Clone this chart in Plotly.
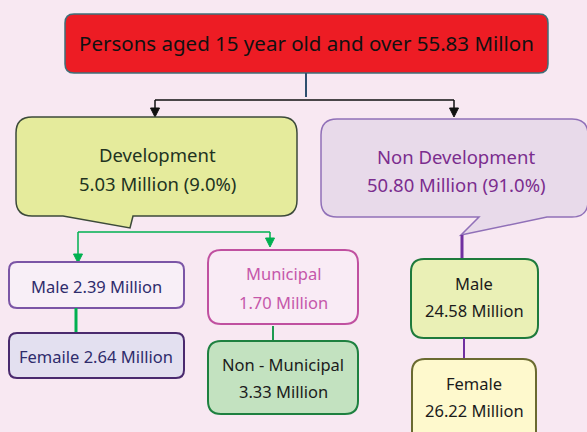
import plotly.graph_objects as go

# ---- data ----
total_label = "Persons aged 15 year old and over"
total_value = 55.83
group_names = ["Development", "Non Development"]
group_values = [5.03, 50.80]
group_shares = [9.0, 91.0]
dev_sex_names = ["Male", "Femaile"]
dev_sex_values = [2.39, 2.64]
dev_area_names = ["Municipal", "Non - Municipal"]
dev_area_values = [1.70, 3.33]
nondev_sex_names = ["Male", "Female"]
nondev_sex_values = [24.58, 26.22]

W, H = 587, 432
FONT = "Noto Sans"
BG = "#F8E8F2"

fig = go.Figure()
shapes = []
annots = []


def rr_path(x0, y0, x1, y1, r, tail=None):
    p = f"M {x0+r},{y0} L {x1-r},{y0} Q {x1},{y0} {x1},{y0+r} L {x1},{y1-r} Q {x1},{y1} {x1-r},{y1} "
    if tail:
        xa, xt, yt, xb = tail
        p += f"L {xa},{y1} L {xt},{yt} L {xb},{y1} "
    p += f"L {x0+r},{y1} Q {x0},{y1} {x0},{y1-r} L {x0},{y0+r} Q {x0},{y0} {x0+r},{y0} Z"
    return p


def box(x0, y0, x1, y1, fill, line, r=10, width=2, tail=None):
    shapes.append(dict(type="path", path=rr_path(x0, y0, x1, y1, r, tail),
                       fillcolor=fill, line=dict(color=line, width=width),
                       xref="x", yref="y", layer="above"))


def text(x, y, s, color, size=17):
    annots.append(dict(x=x, y=y, text=s, showarrow=False, xref="x", yref="y",
                       font=dict(family=FONT, size=size, color=color),
                       xanchor="center", yanchor="middle"))


def line(x0, y0, x1, y1, color, width=1.5):
    shapes.append(dict(type="line", x0=x0, y0=y0, x1=x1, y1=y1, xref="x", yref="y",
                       line=dict(color=color, width=width), layer="above"))


def arrow_head(x, y, color, s=4.5):
    shapes.append(dict(type="path", path=f"M {x-s},{y-9} L {x+s},{y-9} L {x},{y} Z",
                       fillcolor=color, line=dict(color=color, width=1),
                       xref="x", yref="y", layer="above"))


# top box
box(65, 14, 548, 73, "#ED1C24", "#3E6F78", r=9, width=1.5)
text(306, 43, f"{total_label} {total_value:.2f} Millon", "#111111", 20.5)

# connectors top
line(306, 73, 306, 97, "#2F4F6F", 2)
line(155, 100, 454, 100, "#111111", 1.5)
line(155, 100, 155, 112, "#111111", 1.5)
line(454, 100, 454, 112, "#111111", 1.5)
arrow_head(155, 117, "#111111")
arrow_head(454, 117, "#111111")

# Development callout
box(16, 117, 297, 216, "#E5EB9C", "#3C4A3A", r=16, width=1.5, tail=(133, 130, 228, 63))
text(157, 154, group_names[0], "#22331F", 18.5)
text(157, 183, f"{group_values[0]:.2f} Million ({group_shares[0]:.1f}%)", "#22331F", 18.5)

# Non Development callout
box(321, 119, 588, 217, "#E8DAEA", "#9070B8", r=16, width=1.5, tail=(547, 461, 235, 479))
text(456, 156, group_names[1], "#7B2D8E", 18.5)
text(456, 184, f"{group_values[1]:.2f} Million ({group_shares[1]:.1f}%)", "#7B2D8E", 18.5)

# green connectors under Development
GREEN = "#00B050"
line(78, 232, 270, 232, GREEN, 1.5)
line(78, 232, 78, 257, GREEN, 1.5)
line(270, 232, 270, 241, GREEN, 1.5)
arrow_head(78, 263, GREEN)
arrow_head(270, 247, GREEN)

# Dev male / female
box(9, 262, 184, 308, "#F8EFF7", "#7B55A6", r=8, width=2)
text(96, 286, f"{dev_sex_names[0]} {dev_sex_values[0]:.2f} Million", "#2F2C6C", 16.5)
line(76, 308, 76, 333, GREEN, 3)
box(9, 333, 184, 378, "#E3E0F0", "#4A2A6E", r=8, width=2)
text(96, 356, f"{dev_sex_names[1]} {dev_sex_values[1]:.2f} Million", "#2F2C6C", 16.5)

# Municipal / Non-Municipal
box(208, 250, 358, 324, "#F9EBF5", "#C050A0", r=13, width=2)
text(283, 273, dev_area_names[0], "#C557AA", 16.5)
text(283, 302, f"{dev_area_values[0]:.2f} Million", "#C557AA", 16.5)
line(273, 326, 273, 341, "#1E9A50", 2)
box(208, 341, 358, 414, "#C3E2C0", "#1E8040", r=13, width=2)
text(283, 364, dev_area_names[1], "#1B1B1B", 16.5)
text(283, 391, f"{dev_area_values[1]:.2f} Million", "#1B1B1B", 16.5)

# Non Development male / female
PURPLE = "#7030A0"
line(462, 235, 462, 258, PURPLE, 3)
box(411, 259, 538, 338, "#EAF0B6", "#1E7A3C", r=13, width=2)
text(474, 283, nondev_sex_names[0], "#1B1B1B", 16.5)
text(474, 310, f"{nondev_sex_values[0]:.2f} Million", "#1B1B1B", 16.5)
line(464, 338, 464, 359, PURPLE, 2)
box(412, 359, 536, 445, "#FEF9CD", "#6A6A30", r=13, width=2)
text(474, 383, nondev_sex_names[1], "#1B1B1B", 16.5)
text(474, 410, f"{nondev_sex_values[1]:.2f} Million", "#1B1B1B", 16.5)

fig.update_layout(
    width=W, height=H,
    margin=dict(l=0, r=0, t=0, b=0),
    paper_bgcolor=BG, plot_bgcolor=BG,
    xaxis=dict(range=[0, W], visible=False, fixedrange=True),
    yaxis=dict(range=[H, 0], visible=False, fixedrange=True),
    shapes=shapes, annotations=annots, showlegend=False,
)
fig.write_html("out.html", config={"displayModeBar": False},
               post_script="document.body.style.margin='0';document.body.style.background='%s';" % BG)
